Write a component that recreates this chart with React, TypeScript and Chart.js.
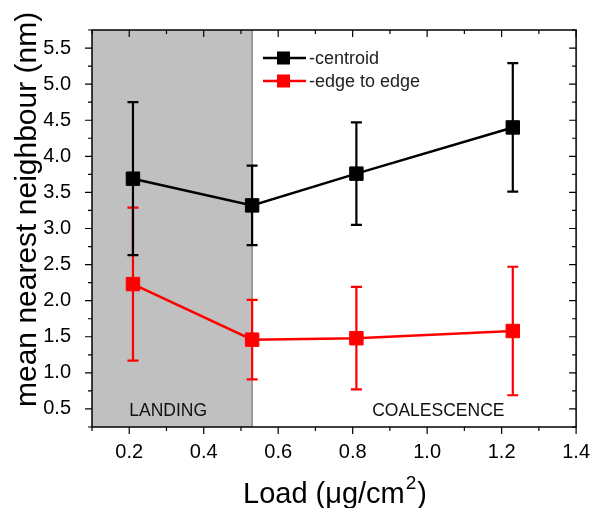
import React, { useEffect, useRef } from "react";
import { Chart, registerables } from "chart.js";

Chart.register(...registerables);

// ---- data ----
const loads = [0.21, 0.53, 0.81, 1.23];
const centroid = [3.69, 3.32, 3.76, 4.4];
const centroidErr = [1.06, 0.55, 0.71, 0.89];
const edgeToEdge = [2.23, 1.46, 1.48, 1.58];
const edgeToEdgeErr = [1.06, 0.55, 0.71, 0.89];
const seriesNames = ["-centroid", "-edge to edge"];
const seriesColors = ["#000000", "#ff0000"];

const xTicks = [0.2, 0.4, 0.6, 0.8, 1.0, 1.2, 1.4];
const xMinorTicks = [0.1, 0.3, 0.5, 0.7, 0.9, 1.1, 1.3];
const yTicks = [0.5, 1.0, 1.5, 2.0, 2.5, 3.0, 3.5, 4.0, 4.5, 5.0, 5.5];
const yMinorTicks = [0.25, 0.75, 1.25, 1.75, 2.25, 2.75, 3.25, 3.75, 4.25, 4.75, 5.25, 5.75];
const xRange = [0.1, 1.4];
const yRange = [0.25, 5.75];

const landingRange = [0.1, 0.53];
const regionLabels = ["LANDING", "COALESCENCE"];
const regionLabelPos = [
  { x: 0.2, y: 0.4, align: "left" },
  { x: 1.03, y: 0.4, align: "center" },
];

const yTitle = "mean nearest neighbour (nm)";
const xTitleMain = "Load (\u03BCg/cm";
const xTitleSup = "2";
const xTitleEnd = ")";

const FONT = "Arial, 'Liberation Sans', sans-serif";

const customPlugin = {
  id: "customDecor",
  beforeDatasetsDraw(chart: any) {
    const { ctx, chartArea: a, scales } = chart;
    const x = scales.x;
    const y = scales.y;
    ctx.save();
    // landing region
    const x0 = x.getPixelForValue(landingRange[0]);
    const x1 = x.getPixelForValue(landingRange[1]);
    ctx.fillStyle = "#c0c0c0";
    ctx.fillRect(x0, a.top, x1 - x0, a.bottom - a.top);
    ctx.strokeStyle = "#8a8a8a";
    ctx.lineWidth = 1.5;
    ctx.beginPath();
    ctx.moveTo(x1, a.top);
    ctx.lineTo(x1, a.bottom);
    ctx.stroke();

    // region labels
    ctx.font = `17.5px ${FONT}`;
    ctx.fillStyle = "#111";
    ctx.textBaseline = "alphabetic";
    regionLabels.forEach((t, i) => {
      const p = regionLabelPos[i];
      ctx.textAlign = p.align;
      ctx.fillText(t, x.getPixelForValue(p.x), y.getPixelForValue(p.y));
    });

    // error bars
    const drawErr = (vals: number[], errs: number[], color: string) => {
      ctx.strokeStyle = color;
      ctx.lineWidth = 2.2;
      vals.forEach((v, i) => {
        const px = x.getPixelForValue(loads[i]);
        const top = y.getPixelForValue(v + errs[i]);
        const bot = y.getPixelForValue(v - errs[i]);
        ctx.beginPath();
        ctx.moveTo(px, top);
        ctx.lineTo(px, bot);
        ctx.moveTo(px - 5.5, top);
        ctx.lineTo(px + 5.5, top);
        ctx.moveTo(px - 5.5, bot);
        ctx.lineTo(px + 5.5, bot);
        ctx.stroke();
      });
    };
    drawErr(edgeToEdge, edgeToEdgeErr, seriesColors[1]);
    drawErr(centroid, centroidErr, seriesColors[0]);
    ctx.restore();
  },
  afterDraw(chart: any) {
    const { ctx, chartArea: a, scales } = chart;
    const x = scales.x;
    const y = scales.y;
    ctx.save();
    // frame
    ctx.strokeStyle = "#000";
    ctx.lineWidth = 1.5;
    ctx.strokeRect(a.left, a.top, a.right - a.left, a.bottom - a.top);
    // ticks
    ctx.lineWidth = 1.2;
    const major = 7;
    const minor = 4;
    const vt = (vals: number[], len: number) => {
      vals.forEach((v) => {
        const px = x.getPixelForValue(v);
        ctx.beginPath();
        ctx.moveTo(px, a.bottom);
        ctx.lineTo(px, a.bottom + len);
        ctx.moveTo(px, a.top);
        ctx.lineTo(px, a.top + len);
        ctx.stroke();
      });
    };
    const ht = (vals: number[], len: number) => {
      vals.forEach((v) => {
        const py = y.getPixelForValue(v);
        ctx.beginPath();
        ctx.moveTo(a.left, py);
        ctx.lineTo(a.left - len, py);
        ctx.moveTo(a.right, py);
        ctx.lineTo(a.right - len, py);
        ctx.stroke();
      });
    };
    vt(xTicks, major);
    vt(xMinorTicks, minor);
    ht(yTicks, major);
    ht(yMinorTicks, minor);

    // legend
    const lx0 = 263;
    const rows = [58, 81];
    seriesNames.forEach((name, i) => {
      const cy = rows[i];
      ctx.strokeStyle = seriesColors[i];
      ctx.fillStyle = seriesColors[i];
      ctx.lineWidth = 2.5;
      ctx.beginPath();
      ctx.moveTo(lx0, cy);
      ctx.lineTo(lx0 + 43, cy);
      ctx.stroke();
      ctx.fillRect(lx0 + 14, cy - 6.5, 13, 13);
      ctx.fillStyle = "#222";
      ctx.font = `18px ${FONT}`;
      ctx.textAlign = "left";
      ctx.textBaseline = "middle";
      ctx.fillText(name, lx0 + 46, cy + 1);
    });

    // y title
    ctx.fillStyle = "#000";
    ctx.font = `30px ${FONT}`;
    ctx.save();
    ctx.translate(36, 407);
    ctx.rotate(-Math.PI / 2);
    ctx.textAlign = "left";
    ctx.textBaseline = "alphabetic";
    ctx.fillText(yTitle, 0, 0);
    ctx.restore();

    // x title
    ctx.textAlign = "left";
    ctx.textBaseline = "alphabetic";
    ctx.font = `29px ${FONT}`;
    let tx = 243;
    const ty = 503;
    ctx.fillText(xTitleMain, tx, ty);
    tx += ctx.measureText(xTitleMain).width + 1;
    ctx.font = `19px ${FONT}`;
    ctx.fillText(xTitleSup, tx, ty - 14);
    tx += ctx.measureText(xTitleSup).width + 1;
    ctx.font = `29px ${FONT}`;
    ctx.fillText(xTitleEnd, tx, ty);
    ctx.restore();
  },
};

export default function App() {
  const ref = useRef<HTMLCanvasElement>(null);
  useEffect(() => {
    document.body.style.margin = "0";
    const canvas = ref.current!;
    const chart = new Chart(canvas, {
      type: "line",
      data: {
        datasets: [
          {
            label: seriesNames[0],
            data: loads.map((l, i) => ({ x: l, y: centroid[i] })),
            borderColor: seriesColors[0],
            backgroundColor: seriesColors[0],
            borderWidth: 2.5,
            pointStyle: "rect",
            pointRadius: 9.5,
            pointBorderWidth: 1,
            order: 0,
          },
          {
            label: seriesNames[1],
            data: loads.map((l, i) => ({ x: l, y: edgeToEdge[i] })),
            borderColor: seriesColors[1],
            backgroundColor: seriesColors[1],
            borderWidth: 2.5,
            pointStyle: "rect",
            pointRadius: 9.5,
            pointBorderWidth: 1,
            order: 1,
          },
        ],
      },
      options: {
        responsive: false,
        animation: false,
        events: [],
        layout: { padding: { top: 30, right: 18.5, left: 0, bottom: 0 } },
        plugins: {
          legend: { display: false },
          tooltip: { enabled: false },
          title: { display: false },
        },
        scales: {
          x: {
            type: "linear",
            min: xRange[0],
            max: xRange[1],
            grid: { display: false },
            border: { display: false },
            afterBuildTicks: (s: any) => {
              s.ticks = xTicks.map((v) => ({ value: v }));
            },
            afterFit: (s: any) => {
              s.height = 81;
            },
            ticks: {
              padding: 5,
              maxRotation: 0,
              autoSkip: false,
              color: "#000",
              font: { family: FONT, size: 20 },
              callback: (v: any) => Number(v).toFixed(1),
            },
          },
          y: {
            type: "linear",
            min: yRange[0],
            max: yRange[1],
            grid: { display: false },
            border: { display: false },
            afterBuildTicks: (s: any) => {
              s.ticks = yTicks.map((v) => ({ value: v }));
            },
            afterFit: (s: any) => {
              s.width = 92;
            },
            ticks: {
              padding: 13,
              autoSkip: false,
              color: "#000",
              font: { family: FONT, size: 20 },
              callback: (v: any) => Number(v).toFixed(1),
            },
          },
        },
      },
      plugins: [customPlugin],
    });
    return () => chart.destroy();
  }, []);
  return (
    <div style={{ width: 595, height: 508, background: "#fff" }}>
      <canvas ref={ref} width={595} height={508} style={{ display: "block" }} />
    </div>
  );
}
